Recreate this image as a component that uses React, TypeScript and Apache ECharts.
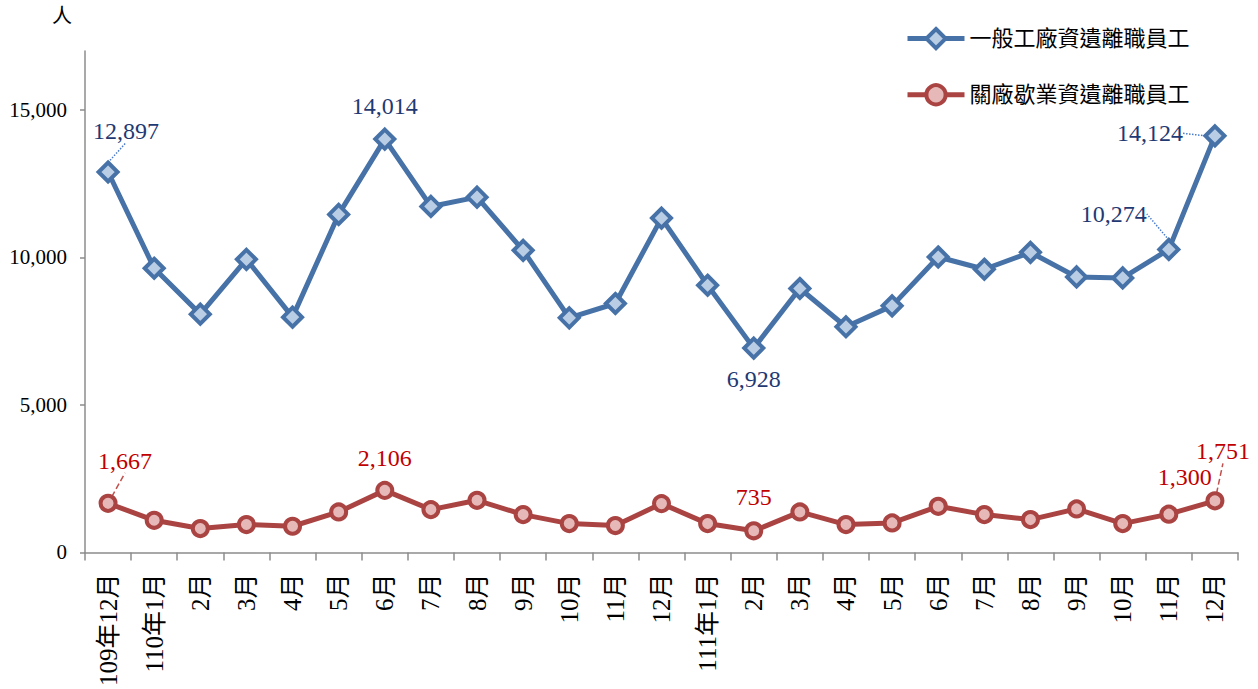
import React, { useEffect, useRef } from "react";
import * as echarts from "echarts";

const categories = [
  "109年12月", "110年1月", "2月", "3月", "4月", "5月", "6月", "7月", "8月", "9月", "10月", "11月", "12月",
  "111年1月", "2月", "3月", "4月", "5月", "6月", "7月", "8月", "9月", "10月", "11月", "12月",
];
const seriesNames = ["一般工廠資遺離職員工", "關廠歇業資遺離職員工"];
const generalValues = [
  12897, 9635, 8080, 9939, 7978, 11460, 14014, 11731, 12046, 10243, 7955, 8441, 11336,
  9060, 6928, 8948, 7651, 8361, 10017, 9601, 10176, 9341, 9307, 10274, 14124,
];
const closureValues = [
  1667, 1092, 811, 947, 890, 1375, 2106, 1454, 1769, 1285, 980, 913, 1657,
  980, 735, 1375, 947, 1003, 1566, 1285, 1116, 1477, 980, 1300, 1751,
];
const yTicks = [0, 5000, 10000, 15000];
const labeledGeneral = [0, 6, 14, 23, 24];
const labeledClosure = [0, 6, 14, 23, 24];
const leaderGeneral = [0, 23, 24];
const leaderClosure = [0, 24];

const FONT = "'Liberation Serif', 'Times New Roman', 'Noto Sans CJK TC', serif";

// label offsets (style only)
const offsetsGeneral: Record<number, [number, number]> = {
  0: [18, -13],
  6: [0, -5],
  14: [0, 59],
  23: [-55, -7],
  24: [-65, 26],
};
const offsetsClosure: Record<number, [number, number]> = {
  0: [17, -16],
  6: [0, -6],
  14: [0, -7],
  23: [16, -11],
  24: [8, -23],
};

export default function App() {
  const ref = useRef<HTMLDivElement>(null);
  useEffect(() => {
    document.body.style.margin = "0";
    const chart = echarts.init(ref.current!, undefined, { renderer: "svg" });
    const mk = (vals: number[], labeled: number[], leaders: number[]) =>
      vals.map((v, i) =>
        labeled.includes(i)
          ? {
              value: v,
              label: { show: true },
              labelLine: { show: leaders.includes(i) },
            }
          : { value: v }
      );
    chart.setOption({
      animation: false,
      textStyle: { fontFamily: FONT },
      grid: { left: 85, right: 20, top: 51, bottom: 136, containLabel: false },
      legend: {
        orient: "vertical",
        left: 900,
        top: 22,
        itemWidth: 57,
        itemHeight: 24,
        itemGap: 33,
        lineStyle: { width: 5 },
        itemStyle: { borderWidth: 4 },
        textStyle: { fontFamily: FONT, fontSize: 22, color: "#000" },
        data: seriesNames,
      },
      graphic: [
        {
          type: "text",
          left: 52,
          top: 6,
          style: { text: "人", fontSize: 20, fontFamily: FONT, fill: "#000" },
        },
      ],
      xAxis: {
        type: "category",
        data: categories,
        boundaryGap: true,
        axisLine: { lineStyle: { color: "#8c8c8c", width: 1.5 } },
        axisTick: { show: true, length: 8, lineStyle: { color: "#8c8c8c", width: 1.5 } },
        axisLabel: {
          interval: 0,
          rotate: 90,
          margin: 21,
          fontSize: 25,
          color: "#000",
          fontFamily: FONT,
        },
      },
      yAxis: {
        type: "value",
        min: 0,
        max: 17000,
        interval: 5000,
        splitLine: { show: false },
        axisLine: { show: true, lineStyle: { color: "#8c8c8c", width: 1.5 } },
        axisTick: {
          show: true,
          length: 5,
          customValues: yTicks,
          lineStyle: { color: "#8c8c8c", width: 1.5 },
        },
        axisLabel: {
          customValues: yTicks,
          margin: 18,
          fontSize: 21,
          color: "#000",
          fontFamily: FONT,
          formatter: (v: number) => v.toLocaleString("en-US"),
        },
      },
      series: [
        {
          name: seriesNames[0],
          type: "line",
          data: mk(generalValues, labeledGeneral, leaderGeneral),
          symbol: "diamond",
          symbolSize: 19,
          lineStyle: { color: "#4672A8", width: 5 },
          itemStyle: { color: "#B9CDE5", borderColor: "#4672A8", borderWidth: 4 },
          label: {
            show: false,
            position: "top",
            distance: 5,
            fontSize: 24,
            color: "#1F3A73",
            fontFamily: FONT,
            formatter: (p: any) => Number(p.value).toLocaleString("en-US"),
          },
          labelLine: { show: false, lineStyle: { color: "#4A7CC8", width: 1.5, type: "dotted" } },
          labelLayout: (p: any) => {
            const o = offsetsGeneral[p.dataIndex];
            return o ? { dx: o[0], dy: o[1] } : {};
          },
          z: 3,
        },
        {
          name: seriesNames[1],
          type: "line",
          data: mk(closureValues, labeledClosure, leaderClosure),
          symbol: "circle",
          symbolSize: 15,
          lineStyle: { color: "#AA4442", width: 5 },
          itemStyle: { color: "#E6B9B8", borderColor: "#AA4442", borderWidth: 4 },
          label: {
            show: false,
            position: "top",
            distance: 5,
            fontSize: 24,
            color: "#C00000",
            fontFamily: FONT,
            formatter: (p: any) => Number(p.value).toLocaleString("en-US"),
          },
          labelLine: { show: false, lineStyle: { color: "#C0504D", width: 1.5, type: "dashed" } },
          labelLayout: (p: any) => {
            const o = offsetsClosure[p.dataIndex];
            return o ? { dx: o[0], dy: o[1] } : {};
          },
          z: 2,
        },
      ],
    });
    return () => chart.dispose();
  }, []);
  return <div ref={ref} style={{ width: 1258, height: 689 }} />;
}
